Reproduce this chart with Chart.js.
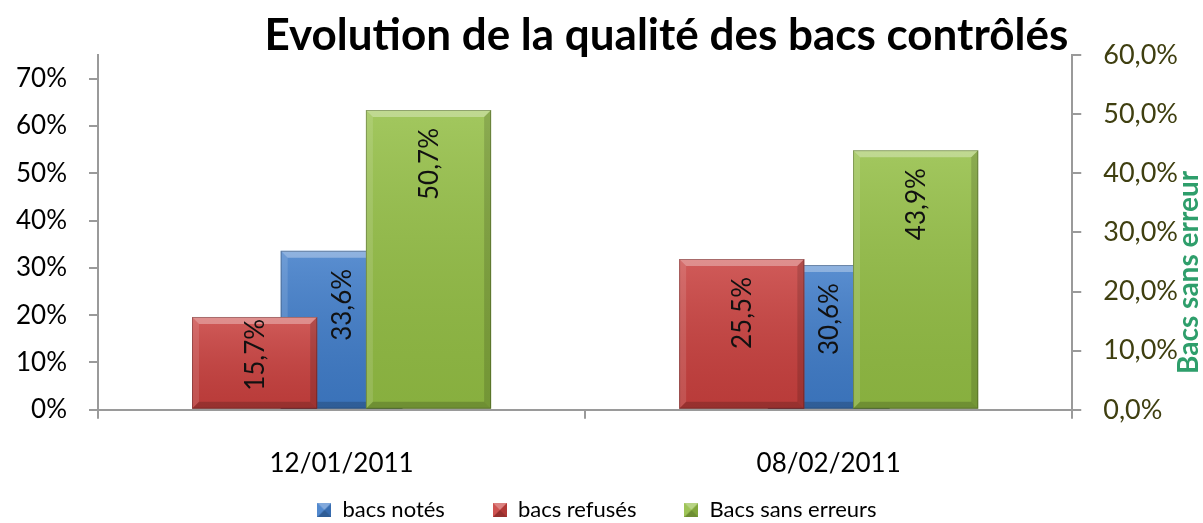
<!DOCTYPE html>
<html><head><meta charset="utf-8">
<script src="https://cdn.jsdelivr.net/npm/chart.js@4.4.0/dist/chart.umd.min.js"></script>
<style>html,body{margin:0;padding:0;background:#fff;} #wrap{width:1203px;height:523px;position:relative;}</style>
</head><body><div id="wrap"><canvas id="c"></canvas></div>
<script>
const chartTitle = 'Evolution de la qualité des bacs contrôlés';
const rightAxisTitle = 'Bacs sans erreur';
const categories = ['12/01/2011', '08/02/2011'];
const bacsNotes = [0.336, 0.306];        // left axis
const bacsRefuses = [0.157, 0.255];      // right axis
const bacsSansErreurs = [0.507, 0.439];  // right axis
const leftTickLabels = ['0%', '10%', '20%', '30%', '40%', '50%', '60%', '70%'];
const rightTickLabels = ['0,0%', '10,0%', '20,0%', '30,0%', '40,0%', '50,0%', '60,0%'];

const FONT = 'Lato, "Open Sans", sans-serif';
const RED = '#C9403E', BLUE = '#3F7CC9', GREEN = '#93BE44';
const AXIS = '#9a9a9a';

function fmt(v) { return (v * 100).toFixed(1).replace('.', ',') + '%'; }

function makeIcon(color) {
  const s = 14, c = document.createElement('canvas');
  c.width = s; c.height = s;
  const g = c.getContext('2d');
  g.fillStyle = color; g.fillRect(0, 0, s, s);
  const tri = (pts, fill) => { g.beginPath(); g.moveTo(pts[0], pts[1]); for (let i = 2; i < pts.length; i += 2) g.lineTo(pts[i], pts[i + 1]); g.closePath(); g.fillStyle = fill; g.fill(); };
  tri([0, 0, s, 0, s / 2, s / 2], 'rgba(255,255,255,0.35)');
  tri([0, s, s, s, s / 2, s / 2], 'rgba(0,0,0,0.25)');
  tri([0, 0, 0, s, s / 2, s / 2], 'rgba(255,255,255,0.1)');
  tri([s, 0, s, s, s / 2, s / 2], 'rgba(0,0,0,0.12)');
  return c;
}

const bevelPlugin = {
  id: 'bevel',
  afterDatasetDraw(chart, args) {
    const ctx = chart.ctx;
    const area = chart.chartArea;
    ctx.save();
    ctx.beginPath(); ctx.rect(area.left, area.top - 2, area.right - area.left, area.bottom - area.top + 2); ctx.clip();
    args.meta.data.forEach(el => {
      const p = el.getProps(['x', 'y', 'base', 'width'], true);
      const l = p.x - p.width / 2, r = p.x + p.width / 2, t = Math.min(p.y, p.base), b = Math.max(p.y, p.base);
      if (b - t < 1) return;
      const bv = Math.min(7, p.width / 4, (b - t) / 4);
      const grad = ctx.createLinearGradient(0, t, 0, b);
      grad.addColorStop(0, 'rgba(255,255,255,0.14)');
      grad.addColorStop(1, 'rgba(0,0,0,0.08)');
      ctx.fillStyle = grad; ctx.fillRect(l, t, r - l, b - t);
      const poly = (pts, fill) => { ctx.beginPath(); ctx.moveTo(pts[0], pts[1]); for (let i = 2; i < pts.length; i += 2) ctx.lineTo(pts[i], pts[i + 1]); ctx.closePath(); ctx.fillStyle = fill; ctx.fill(); };
      poly([l, t, r, t, r - bv, t + bv, l + bv, t + bv], 'rgba(255,255,255,0.32)');
      poly([l, b, r, b, r - bv, b - bv, l + bv, b - bv], 'rgba(0,0,0,0.18)');
      poly([l, t, l + bv, t + bv, l + bv, b - bv, l, b], 'rgba(255,255,255,0.12)');
      poly([r, t, r - bv, t + bv, r - bv, b - bv, r, b], 'rgba(0,0,0,0.14)');
      ctx.strokeStyle = 'rgba(0,0,0,0.25)'; ctx.lineWidth = 1;
      ctx.strokeRect(l + 0.5, t + 0.5, r - l - 1, b - t - 1);
    });
    ctx.restore();
  }
};

const labelPlugin = {
  id: 'valueLabels',
  afterDatasetsDraw(chart) {
    const ctx = chart.ctx;
    ctx.save();
    ctx.font = '26px ' + FONT;
    ctx.fillStyle = '#111';
    ctx.textBaseline = 'middle';
    ctx.textAlign = 'left';
    chart.data.datasets.forEach((ds, di) => {
      const meta = chart.getDatasetMeta(di);
      meta.data.forEach((el, i) => {
        const p = el.getProps(['x', 'y', 'base'], true);
        const txt = fmt(ds.data[i]);
        const w = ctx.measureText(txt).width;
        let top = p.y + 18;
        if (top + w > p.base - 18) top = p.base - 18 - w;
        ctx.save();
        ctx.translate(p.x, top + w);
        ctx.rotate(-Math.PI / 2);
        ctx.fillText(txt, 0, 1);
        ctx.restore();
      });
    });
    ctx.restore();
  }
};

const textPlugin = {
  id: 'texts',
  afterDraw(chart) {
    const ctx = chart.ctx, a = chart.chartArea;
    ctx.save();
    ctx.font = 'bold 44px ' + FONT;
    ctx.fillStyle = '#000';
    ctx.textAlign = 'right';
    ctx.textBaseline = 'alphabetic';
    ctx.fillText(chartTitle, a.right - 4, 50);
    ctx.font = 'bold 28px ' + FONT;
    ctx.fillStyle = '#2E9E6B';
    ctx.textAlign = 'center';
    ctx.textBaseline = 'middle';
    ctx.translate(chart.width - 14, (a.top + a.bottom) / 2 + 40);
    ctx.rotate(-Math.PI / 2);
    ctx.fillText(rightAxisTitle, 0, 0);
    ctx.restore();
  }
};

const LEGEND_H = 15, LEGEND_SHIFT = 57;
const legendFitPlugin = {
  id: 'legendFit',
  afterInit(chart) {
    const lg = chart.legend;
    if (!lg) return;
    const orig = lg.fit;
    lg.fit = function () { orig.call(this); this.height = LEGEND_H; };
  },
  afterLayout(chart) {
    const lg = chart.legend;
    if (!lg) return;
    lg.top -= LEGEND_SHIFT;
    lg.height += LEGEND_SHIFT;
  }
};

const datasets = [
  { label: 'bacs refusés', data: bacsRefuses, yAxisID: 'y1', backgroundColor: RED, borderWidth: 0, categoryPercentage: 0.714, barPercentage: 0.72, order: 0 },
  { label: 'Bacs sans erreurs', data: bacsSansErreurs, yAxisID: 'y1', backgroundColor: GREEN, borderWidth: 0, categoryPercentage: 0.714, barPercentage: 0.72, order: 1 },
  { label: 'bacs notés', data: bacsNotes, yAxisID: 'y', backgroundColor: BLUE, borderWidth: 0, grouped: false, categoryPercentage: 0.5, barPercentage: 0.5, order: 2 }
];
const legendOrder = [2, 0, 1];
const icons = datasets.map(d => makeIcon(d.backgroundColor));

const axisGrid = { display: true, drawOnChartArea: false, drawTicks: true, tickLength: 9, color: AXIS, lineWidth: 2 };
const axisBorder = { display: true, color: AXIS, width: 2 };

new Chart(document.getElementById('c'), {
  type: 'bar',
  data: { labels: categories, datasets },
  options: {
    responsive: true,
    maintainAspectRatio: false,
    animation: false,
    layout: { padding: { top: 55, left: -6, right: 3, bottom: 0 } },
    scales: {
      x: {
        type: 'category', position: 'bottom', offset: true,
        grid: Object.assign({}, axisGrid, { offset: true }),
        border: axisBorder,
        ticks: { font: { family: FONT, size: 26 }, color: '#000', padding: 29 }
      },
      y: {
        position: 'left', min: 0, max: 0.75,
        grid: axisGrid, border: axisBorder,
        ticks: { stepSize: 0.1, includeBounds: false, font: { family: FONT, size: 26 }, color: '#000', padding: 22,
          callback: (v, i) => leftTickLabels[i] }
      },
      y1: {
        position: 'right', min: 0, max: 0.6,
        grid: axisGrid, border: axisBorder,
        ticks: { stepSize: 0.1, includeBounds: false, font: { family: FONT, size: 27 }, color: '#3F3F10', padding: 22,
          callback: (v, i) => rightTickLabels[i] }
      }
    },
    plugins: {
      title: { display: false },
      tooltip: { enabled: false },
      legend: {
        position: 'bottom',
        labels: {
          font: { family: FONT, size: 22 }, color: '#000', usePointStyle: true, boxWidth: 14, boxHeight: 14, padding: 48,
          generateLabels: (chart) => legendOrder.map(i => ({
            text: chart.data.datasets[i].label, fillStyle: datasets[i].backgroundColor, strokeStyle: datasets[i].backgroundColor,
            lineWidth: 0, pointStyle: icons[i], datasetIndex: i, hidden: !chart.isDatasetVisible(i), fontColor: '#000'
          }))
        }
      }
    }
  },
  plugins: [legendFitPlugin, bevelPlugin, labelPlugin, textPlugin]
});
</script>
</body></html>
